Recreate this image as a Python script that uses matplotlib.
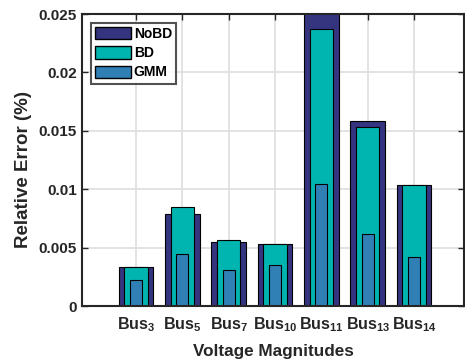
import numpy as np
import matplotlib.pyplot as plt
from matplotlib.patches import Patch

# Relative error per bus
buses = ["3", "5", "7", "10", "11", "13", "14"]
nobd = [0.00332, 0.00786, 0.00546, 0.00529, 0.0256, 0.01581, 0.01038]
bd = [0.00334, 0.00846, 0.00563, 0.00529, 0.02373, 0.01532, 0.01040]
gmm = [0.00223, 0.00446, 0.00306, 0.00349, 0.01046, 0.00617, 0.00417]

plt.rcParams['font.family'] = ['Liberation Sans', 'DejaVu Sans']
plt.rcParams['font.weight'] = 'bold'
plt.rcParams['mathtext.fontset'] = 'custom'
plt.rcParams['mathtext.rm'] = 'Liberation Sans:bold'
plt.rcParams['mathtext.default'] = 'rm'

col_nobd = '#35347f'
col_bd = '#00b5b0'
col_gmm = '#3080b6'

fig = plt.figure(figsize=(4.65, 3.64), dpi=100)
ax = fig.add_axes([0.1763, 0.1593, 0.8217, 0.8022])

x = np.arange(1, len(buses) + 1)
ax.bar(x, nobd, width=0.75, color=col_nobd, edgecolor='black', linewidth=0.8, zorder=2)
ax.bar(x, bd, width=0.5, color=col_bd, edgecolor='black', linewidth=0.8, zorder=3)
ax.bar(x, gmm, width=0.26, color=col_gmm, edgecolor='black', linewidth=0.8, zorder=4)

ax.set_xlim(-0.166, 8.08)
ax.set_ylim(0, 0.025)
ax.set_xticks(x)
ax.set_xticklabels(["Bus$_{%s}$" % b for b in buses], fontsize=11.5)
ax.set_yticks([0, 0.005, 0.01, 0.015, 0.02, 0.025])
ax.set_yticklabels(["0", "0.005", "0.01", "0.015", "0.02", "0.025"], fontsize=11)

ax.grid(True, color='#e0e0e0', linewidth=1.3, zorder=0)
ax.set_axisbelow(True)
ax.tick_params(direction='in', top=True, right=True, length=4, width=1, colors='#262626',
               labelcolor='#262626', zorder=6)
ax.tick_params(axis='x', pad=7)
for s in ax.spines.values():
    s.set_linewidth(1.5)
    s.set_color('#262626')
    s.set_zorder(6)

ax.set_xlabel("Voltage Magnitudes", fontsize=12.3, fontweight='bold', color='#262626',
              labelpad=7)
ax.set_ylabel("Relative Error (%)", fontsize=13.5, fontweight='bold', color='#262626')
ax.yaxis.set_label_coords(-0.13, 0.469)

handles = [Patch(facecolor=col_nobd, edgecolor='black', label='NoBD'),
           Patch(facecolor=col_bd, edgecolor='black', label='BD'),
           Patch(facecolor=col_gmm, edgecolor='black', label='GMM')]
leg = ax.legend(handles=handles, loc='upper left', bbox_to_anchor=(0.023, 0.97),
                fontsize=10, frameon=True, fancybox=False, edgecolor='#262626',
                handlelength=2.6, handleheight=1.0, handletextpad=0.2,
                labelspacing=0.38, borderpad=0.3, borderaxespad=0)
leg.get_frame().set_linewidth(1.5)

fig.savefig("out.png", dpi=100)
